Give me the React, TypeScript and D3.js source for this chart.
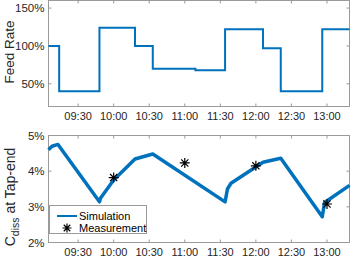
import React from 'react';
import * as d3 from 'd3';

// feed rate steps (value holds from time i until time i+1)
const feedTimes = ['09:05', '09:14', '09:48', '10:18', '10:33', '11:09', '11:34', '12:06', '12:21', '12:56', '13:19'];
const feedValues = [100, 40, 124, 100, 70, 68, 122, 97, 40, 122, 122];

// simulated dissolved carbon at tap-end (%)
const simTimes = ['09:05', '09:08', '09:13', '09:48', '09:49', '10:00', '10:18', '10:33', '11:34', '11:36', '11:39', '12:06', '12:21', '12:56', '12:58', '13:19'];
const simValues = [4.6, 4.7, 4.75, 3.14, 3.25, 3.75, 4.34, 4.48, 3.14, 3.5, 3.66, 4.25, 4.36, 2.72, 3.12, 3.6];

// lab measurements
const measTimes = ['10:00', '11:00', '12:00', '13:00'];
const measValues = [3.82, 4.23, 4.15, 3.08];

const feedTicks = [50, 100, 150];
const cTicks = [2, 3, 4, 5];

const W = 351;
const H = 257;
const blue = '#0072BD';
const axisCol = '#9a9a9a';
const textCol = '#262626';
const font = '"Liberation Sans", Arial, sans-serif';

const parse = d3.timeParse('%H:%M');
const fmt = d3.timeFormat('%H:%M');

const x = d3.scaleTime()
  .domain([parse('09:05') as Date, parse('13:19') as Date])
  .range([48.5, 349.5]);
const xTicks = x.ticks(d3.timeMinute.every(30) as d3.TimeInterval);

const yFeed = d3.scaleLinear().domain([20, 160]).range([106.5, 0.5]);
const yC = d3.scaleLinear().domain([2, 5]).range([242.5, 135.5]);

const feedLine = d3.line<number>()
  .x((d, i) => x(parse(feedTimes[i]) as Date))
  .y(d => yFeed(d))
  .curve(d3.curveStepAfter);

const simLine = d3.line<number>()
  .x((d, i) => x(parse(simTimes[i]) as Date))
  .y(d => yC(d));

const Star: React.FC<{ cx: number; cy: number; r?: number }> = ({ cx, cy, r = 5 }) => {
  const k = r * 0.72;
  return (
    <path
      d={`M${cx - r},${cy}H${cx + r}M${cx},${cy - r}V${cy + r}M${cx - k},${cy - k}L${cx + k},${cy + k}M${cx - k},${cy + k}L${cx + k},${cy - k}`}
      stroke="#000"
      strokeWidth={1.2}
      fill="none"
    />
  );
};

const Frame: React.FC<{ y: d3.ScaleLinear<number, number>; ticks: number[]; fmtY: (v: number) => string }> = ({ y, ticks, fmtY }) => {
  const [y0, y1] = y.range();
  const [x0, x1] = x.range();
  return (
    <g>
      <rect x={x0} y={y1} width={x1 - x0} height={y0 - y1} fill="none" stroke={axisCol} strokeWidth={1} />
      {xTicks.map(t => (
        <g key={+t}>
          <line x1={x(t)} x2={x(t)} y1={y0} y2={y0 - 3} stroke={axisCol} />
          <line x1={x(t)} x2={x(t)} y1={y1} y2={y1 + 3} stroke={axisCol} />
          <text x={x(t)} y={y0 + 9.5} textAnchor="middle" dominantBaseline="central" fontSize={11} fill={textCol}>
            {fmt(t)}
          </text>
        </g>
      ))}
      {ticks.map(v => (
        <g key={v}>
          <line x1={x0} x2={x0 + 3} y1={y(v)} y2={y(v)} stroke={axisCol} />
          <line x1={x1} x2={x1 - 3} y1={y(v)} y2={y(v)} stroke={axisCol} />
          <text x={x0 - 4} y={y(v)} textAnchor="end" dominantBaseline="central" fontSize={11.5} fill={textCol}>
            {fmtY(v)}
          </text>
        </g>
      ))}
    </g>
  );
};

export default function App() {
  return (
    <svg width={W} height={H} style={{ position: 'absolute', left: 0, top: 0, background: '#fff' }} fontFamily={font}>
      <rect width={W} height={H} fill="#fff" />

      {/* top panel: feed rate */}
      <Frame y={yFeed} ticks={feedTicks} fmtY={v => `${v}%`} />
      <path d={feedLine(feedValues) || ''} fill="none" stroke={blue} strokeWidth={2} />
      <text transform="translate(9,52) rotate(-90)" textAnchor="middle" dominantBaseline="central" fontSize={13.5} fill={textCol}>
        Feed Rate
      </text>

      {/* bottom panel: dissolved carbon */}
      <Frame y={yC} ticks={cTicks} fmtY={v => `${v}%`} />
      <path d={simLine(simValues) || ''} fill="none" stroke={blue} strokeWidth={3.5} strokeLinejoin="round" />
      {measTimes.map((t, i) => (
        <Star key={t} cx={x(parse(t) as Date)} cy={yC(measValues[i])} />
      ))}
      <text transform="translate(10,197) rotate(-90)" textAnchor="middle" dominantBaseline="central" fontSize={14} fill={textCol}>
        C<tspan fontSize={10.5} dy={4.5}>diss</tspan><tspan dy={-4.5}> at Tap-end</tspan>
      </text>

      {/* legend */}
      <g>
        <rect x={49.5} y={205.5} width={97} height={28} fill="#fff" stroke={axisCol} />
        <line x1={57} x2={77} y1={216} y2={216} stroke={blue} strokeWidth={2} />
        <text x={79} y={216} dominantBaseline="central" fontSize={11} fill="#000">Simulation</text>
        <Star cx={67} cy={228} r={4.5} />
        <text x={79} y={228} dominantBaseline="central" fontSize={11} fill="#000">Measurement</text>
      </g>
    </svg>
  );
}
